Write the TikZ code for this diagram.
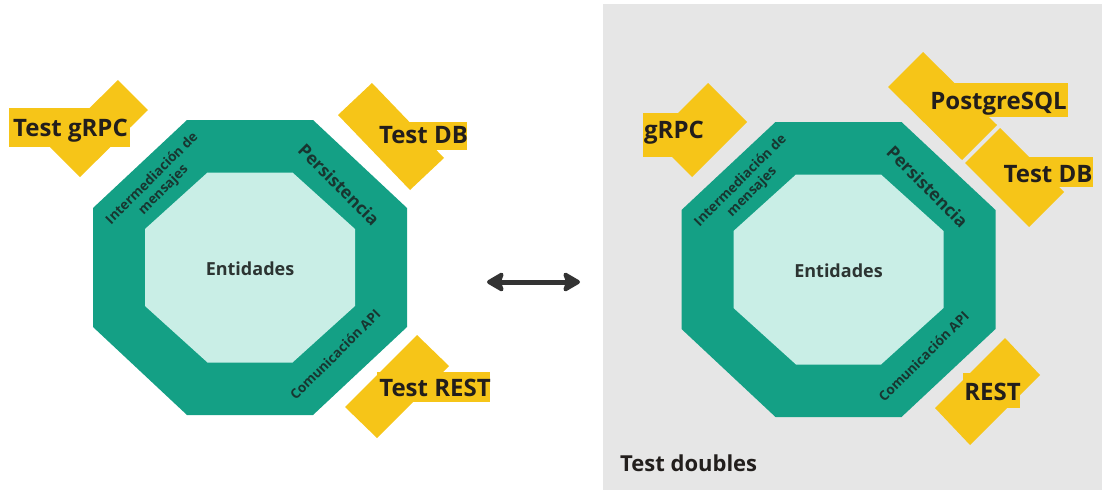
\documentclass[tikz,border=0pt]{standalone}
\usepackage{fontspec}
\setmainfont{Open Sans}
\usetikzlibrary{arrows.meta}
\definecolor{grn}{RGB}{20,160,133}
\definecolor{mint}{RGB}{201,238,230}
\definecolor{yel}{RGB}{246,197,24}
\definecolor{panel}{RGB}{230,230,230}
\definecolor{ink}{RGB}{34,30,28}
\definecolor{entink}{RGB}{44,52,50}
\definecolor{bandink}{RGB}{24,54,48}
\definecolor{arrowink}{RGB}{51,51,51}
\tikzset{
  lbl/.style={font=\bfseries\fontsize{24}{28}\selectfont, text=ink, inner sep=0pt, text height=17pt, text depth=0pt},
  enttxt/.style={font=\bfseries\fontsize{18}{20}\selectfont, text=entink, inner sep=0pt, text height=13pt, text depth=0pt},
  bandtxt/.style={font=\bfseries\fontsize{13.5}{16}\selectfont, text=bandink, inner sep=0pt},
  perstxt/.style={font=\bfseries\fontsize{17.5}{20}\selectfont, text=bandink, inner sep=0pt},
  badge/.style={fill=yel},
  pics/archcore/.style={code={
    \fill[grn] (-63,-147.5) -- (63,-147.5) -- (157,-59.5) -- (157,59.5) -- (63,147.5) -- (-63,147.5) -- (-157,59.5) -- (-157,-59.5) -- cycle;
    \fill[mint] (-42.5,-95) -- (42.5,-95) -- (105,-38.5) -- (105,38.5) -- (42.5,95) -- (-42.5,95) -- (-105,38.5) -- (-105,-38.5) -- cycle;
    \node[enttxt] (-ent) at (0,1.5) {Entidades};
    \node[bandtxt, rotate=45, align=center] (-msg) at (-92,-83) {Intermediación de\\mensajes};
    \node[perstxt, rotate=-45] (-db) at (89,-83) {Persistencia};
    \node[bandtxt, rotate=45] (-api) at (85,87) {Comunicación API};
  }}
}
\begin{document}
\begin{tikzpicture}[x=1pt,y=-1pt]
\useasboundingbox (0,0) rectangle (1102,498);
\fill[panel] (603,4) rectangle (1102,490);

\pic (L) at (250,267.5) {archcore};
\pic (R) at (838.5,269.5) {archcore};

% left badges
\fill[badge] (118,80) -- (148,110) -- (80,177) -- (50,147) -- cycle;
\fill[badge] (9,108) rectangle (130,147);
\node[lbl] (tgrpc) at (70.5,127.5) {Test gRPC};

\fill[badge] (372,83) -- (338,115) -- (410,190) -- (444,158) -- cycle;
\fill[badge] (377,122) rectangle (467,150);
\node[lbl] (tdbl) at (423.5,135) {Test DB};

\fill[badge] (417,335) -- (449,366) -- (377,438) -- (345,407) -- cycle;
\fill[badge] (377,372) rectangle (490,402);
\node[lbl] (trest) at (435,388) {Test REST};

% right badges
\fill[badge] (708,83) -- (747,122) -- (692,177) -- (653,138) -- cycle;
\fill[badge] (643,113) rectangle (703,157);
\node[lbl] (grpc) at (674,130) {gRPC};

\fill[badge] (923,52) -- (888,87) -- (962,160) -- (997,125) -- cycle;
\fill[badge] (930,83) rectangle (1068,117);
\node[lbl] (pg) at (998.5,101) {PostgreSQL};

\fill[badge] (1000,128) -- (965,163) -- (1029,227) -- (1064,192) -- cycle;
\fill[badge] (1003,157) rectangle (1093,187);
\node[lbl] (tdbr) at (1048,174) {Test DB};

\fill[badge] (1005,338) -- (1040,375) -- (970,445) -- (935,408) -- cycle;
\fill[badge] (963,373) rectangle (1020,408);
\node[lbl] (rest) at (992.5,391.5) {REST};

\node[font=\bfseries\fontsize{22}{26}\selectfont, text=ink, inner sep=0pt, text height=15.7pt, text depth=0pt, anchor=west] (td) at (620,463.5) {Test doubles};

% arrow
\coordinate (aL) at (487,282);
\coordinate (aR) at (580,282);
\draw[arrowink, line width=5pt, {Stealth[length=20pt,width=23pt,inset=4pt,round]}-{Stealth[length=20pt,width=23pt,inset=4pt,round]}] (aL) -- (aR);
\end{tikzpicture}
\end{document}
